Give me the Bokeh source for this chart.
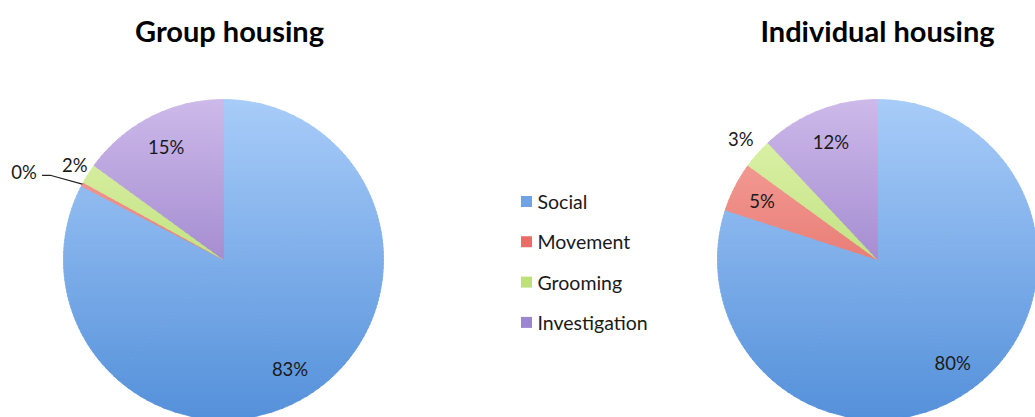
import numpy as np
from bokeh.plotting import figure
from bokeh.models import Range1d
from bokeh.core.properties import value
from bokeh.embed import file_html
from bokeh.resources import INLINE

# ---------------- data ----------------
categories = ["Social", "Movement", "Grooming", "Investigation"]
group_values = [82.6, 0.4, 2.0, 15.0]
individual_values = [80.0, 5.0, 3.0, 12.0]
titles = ["Group housing", "Individual housing"]

# ---------------- style ----------------
W, H = 1035, 417
FONT = "Lato"
TOP = {"Social": "#a8ccf9", "Movement": "#f8aaa4", "Grooming": "#e2f5b0", "Investigation": "#cdb9ea"}
BOTTOM = {"Social": "#5490da", "Movement": "#d9534a", "Grooming": "#a3cf58", "Investigation": "#7e62b8"}
LEGEND_COLOR = {"Social": "#6fa3e2", "Movement": "#ea6c64", "Grooming": "#bde07a", "Investigation": "#9c86cf"}


def hex2rgb(h):
    h = h.lstrip("#")
    return np.array([int(h[i:i + 2], 16) for i in (0, 2, 4)], dtype=float)


def mix(c0, c1, t):
    c = hex2rgb(c0) * (1 - t) + hex2rgb(c1) * t
    return "#%02x%02x%02x" % tuple(int(round(v)) for v in c)


def clip_half(poly, a, sign):
    """keep points with sign*(y-a) >= 0"""
    out = []
    n = len(poly)
    for i in range(n):
        cur = poly[i]
        prv = poly[i - 1]
        cin = sign * (cur[1] - a) >= 0
        pin = sign * (prv[1] - a) >= 0
        if cin:
            if not pin:
                t = (a - prv[1]) / (cur[1] - prv[1])
                out.append((prv[0] + t * (cur[0] - prv[0]), a))
            out.append(cur)
        elif pin:
            t = (a - prv[1]) / (cur[1] - prv[1])
            out.append((prv[0] + t * (cur[0] - prv[0]), a))
    return out


p = figure(width=W, height=H, x_range=Range1d(0, W), y_range=Range1d(H, 0),
           output_backend="svg", toolbar_location=None, min_border=0,
           x_axis_type=None, y_axis_type=None)
p.grid.visible = False
p.outline_line_color = None
p.background_fill_color = "white"
p.border_fill_color = "white"


def pie(cx, cy, R, values, label_r, label_da, title, tx, ty, leader=None):
    total = float(sum(values))
    fr = np.cumsum([0.0] + list(values)) / total * 2 * np.pi
    nb = 80
    edges = np.linspace(cy - R, cy + R, nb + 1)
    xs, ys, cols = [], [], []
    for i, cat in enumerate(categories):
        a0, a1 = fr[i], fr[i + 1]
        if a1 - a0 <= 0:
            continue
        npieces = int(np.ceil((a1 - a0) / (np.pi / 2)))
        bounds = np.linspace(a0, a1, npieces + 1)
        for j in range(npieces):
            b0, b1 = bounds[j], bounds[j + 1]
            n = max(3, int(np.degrees(b1 - b0)) + 2)
            th = np.linspace(b0, b1, n)
            px = np.concatenate([[cx], cx + R * np.sin(th)])
            py = np.concatenate([[cy], cy - R * np.cos(th)])
            poly = list(zip(px, py))
            for k in range(nb):
                y0, y1 = edges[k], edges[k + 1] + 1.0
                part = clip_half(clip_half(poly, y0, 1), y1, -1)
                if len(part) < 3:
                    continue
                t = (k + 0.5) / nb
                xs.append([q[0] for q in part])
                ys.append([q[1] for q in part])
                cols.append(mix(TOP[cat], BOTTOM[cat], t))
    p.patches(xs, ys, fill_color=cols, line_color=cols, line_width=0.8)

    # data labels
    lx, ly, lt = [], [], []
    for i, v in enumerate(values):
        mid = (fr[i] + fr[i + 1]) / 2 + np.radians(label_da[i])
        r = label_r[i] * R
        lx.append(cx + r * np.sin(mid))
        ly.append(cy - r * np.cos(mid))
        lt.append("%d%%" % int(round(v)))
    p.text(lx, ly, text=lt, text_font=value(FONT), text_font_size="18.5px",
           text_align="center", text_baseline="middle", text_color="#1a1a1a")
    if leader is not None:
        i = leader
        mid = (fr[i] + fr[i + 1]) / 2
        ex, ey = cx + R * np.sin(mid), cy - R * np.cos(mid)
        sx, sy = lx[i] + 18, ly[i] + 3
        p.line([sx, sx + 9, ex], [sy, sy, ey], line_color="#222222", line_width=1.2)

    p.text([tx], [ty], text=[title], text_font=value(FONT), text_font_size="29px",
           text_font_style="bold", text_align="center", text_baseline="middle",
           text_color="black")


pie(223, 259, 160, group_values, [0.8, 1.36, 1.1, 0.79], [0, -4.5, 0, 0],
    titles[0], 229, 30, leader=1)
pie(877, 259, 160, individual_values, [0.8, 0.81, 1.14, 0.79], [0, 0, 0, 0],
    titles[1], 877, 30)

# legend
leg_y = [201 + 40.3 * i for i in range(len(categories))]
p.scatter([526] * len(categories), leg_y, marker="square", size=11,
          fill_color=[LEGEND_COLOR[c] for c in categories], line_color=None)
p.text([537] * len(categories), leg_y, text=categories, text_font=value(FONT),
       text_font_size="19.5px", text_align="left", text_baseline="middle",
       text_color="#1a1a1a")

open("out.html", "w").write(file_html(p, INLINE))
